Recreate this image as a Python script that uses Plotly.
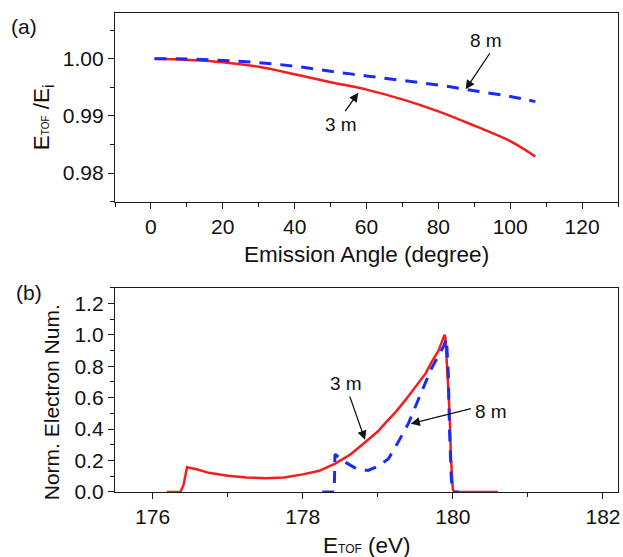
import plotly.graph_objects as go

# (a) energy ratio vs emission angle for two flight lengths
angle_3m = [1, 10, 20, 30, 40, 50, 60, 70, 80, 90, 100, 107]
ratio_3m = [1.0000, 0.9998, 0.9994, 0.9986, 0.9973, 0.9959, 0.9946, 0.9929,
            0.9908, 0.9883, 0.9856, 0.9829]
angle_8m = [1, 10, 20, 30, 40, 50, 60, 70, 80, 90, 100, 107]
ratio_8m = [1.0000, 0.99995, 0.9997, 0.9993, 0.9987, 0.9978, 0.9970, 0.9962,
            0.9954, 0.9944, 0.9934, 0.9925]

# (b) normalised electron energy distributions
e_3m = [176.19, 176.37, 176.41, 176.46, 176.60, 176.75, 177.00, 177.25, 177.50,
        177.75, 178.00, 178.22, 178.44, 178.64, 178.84, 179.00, 179.10, 179.24,
        179.37, 179.50, 179.64, 179.72, 179.81, 179.888, 179.90, 179.955,
        179.976, 180.00, 180.02, 180.60]
n_3m = [0.0, 0.0, 0.04, 0.157, 0.143, 0.122, 0.104, 0.093, 0.088,
        0.092, 0.112, 0.135, 0.182, 0.24, 0.32, 0.385, 0.438, 0.51,
        0.586, 0.67, 0.756, 0.83, 0.90, 1.0, 0.988, 0.52,
        0.205, 0.015, 0.0, 0.0]
e_8m = [178.26, 178.42, 178.43, 178.55, 178.71, 178.87, 179.00, 179.14, 179.24,
        179.32, 179.41, 179.55, 179.72, 179.88, 179.915, 179.94, 179.955,
        179.98, 180.00, 180.08]
n_8m = [0.0, 0.0, 0.24, 0.194, 0.15, 0.137, 0.163, 0.21, 0.29,
        0.364, 0.438, 0.60, 0.79, 0.93, 0.977, 0.75, 0.40,
        0.08, 0.0, 0.0]

RED = "#f51c1c"
BLUE = "#1a2cf2"
AXC = "#1a1a1a"
FONT = "Liberation Sans, Arial, sans-serif"

fig = go.Figure()
fig.add_trace(go.Scatter(x=angle_3m, y=ratio_3m, mode="lines",
                         line=dict(color=RED, width=2.5, shape="spline"),
                         xaxis="x", yaxis="y"))
fig.add_trace(go.Scatter(x=angle_8m, y=ratio_8m, mode="lines",
                         line=dict(color=BLUE, width=3, dash="12px,9px",
                                   shape="spline"),
                         xaxis="x", yaxis="y"))
fig.add_trace(go.Scatter(x=e_3m, y=n_3m, mode="lines",
                         line=dict(color=RED, width=2.5), xaxis="x2", yaxis="y2"))
fig.add_trace(go.Scatter(x=e_8m, y=n_8m, mode="lines",
                         line=dict(color=BLUE, width=3, dash="12px,9px"),
                         xaxis="x2", yaxis="y2"))

axis_common = dict(showline=True, linecolor=AXC, linewidth=1.3, mirror=True,
                   ticks="outside", ticklen=6, tickwidth=1.2, tickcolor=AXC,
                   showgrid=False, zeroline=False,
                   tickfont=dict(family=FONT, size=21, color="#111"))

fig.update_layout(
    width=623, height=557,
    margin=dict(l=115, r=3, t=13, b=65),
    paper_bgcolor="white", plot_bgcolor="white",
    showlegend=False,
    font=dict(family=FONT, color="#111"),
    xaxis=dict(range=[-10, 130], dtick=20, tick0=0, anchor="y",
               minor=dict(ticks="outside", ticklen=4, dtick=10, tickcolor=AXC),
               **axis_common),
    yaxis=dict(range=[0.975, 1.008], dtick=0.01, tick0=0.98, tickformat=".2f",
               domain=[0.6061, 1.0], anchor="x",
               minor=dict(ticks="outside", ticklen=4, dtick=0.005, tickcolor=AXC),
               **axis_common),
    xaxis2=dict(range=[175.5, 182.2], dtick=2, tick0=176, anchor="y2",
                minor=dict(ticks="outside", ticklen=4, dtick=1, tickcolor=AXC),
                **axis_common),
    yaxis2=dict(range=[0, 1.3], dtick=0.2, tick0=0, tickformat=".1f",
                domain=[0.0, 0.4265], anchor="x2",
                minor=dict(ticks="outside", ticklen=4, dtick=0.1, tickcolor=AXC),
                **axis_common),
)

def label(text, x, y, size=19, xref="x", yref="y", angle=0):
    fig.add_annotation(text=text, x=x, y=y, xref=xref, yref=yref,
                       showarrow=False, textangle=angle,
                       xanchor="center", yanchor="middle",
                       font=dict(family=FONT, size=size, color="#111"))

def arrow(x0, y0, x1, y1, xref, yref):
    fig.add_annotation(text="", x=x1, y=y1, ax=x0, ay=y0,
                       xref=xref, yref=yref, axref=xref, ayref=yref,
                       showarrow=True, arrowhead=2, arrowsize=1.4,
                       arrowwidth=1.3, arrowcolor="#111",
                       standoff=0, startstandoff=0)

# curve labels with pointers
label("8 m", 93.2, 1.00327)
arrow(94.6, 1.00122, 87.6, 0.99465, "x", "y")
label("3 m", 52.9, 0.98853)
arrow(53.8, 0.99056, 57.7, 0.99406, "x", "y")

label("3 m", 178.58, 0.692, xref="x2", yref="y2")
arrow(178.62, 0.618, 178.83, 0.332, "x2", "y2")
label("8 m", 180.51, 0.512, xref="x2", yref="y2")
arrow(180.26, 0.533, 179.44, 0.434, "x2", "y2")

# panel letters
label("(a)", -0.1802, 0.9708, size=21, xref="paper", yref="paper")
label("(b)", -0.1703, 0.4175, size=21, xref="paper", yref="paper")

# axis titles
label("Emission Angle (degree)", 0.5, 0.4948, size=22.5, xref="paper", yref="paper")
label("E<span style='font-size:10px'>TOF</span> /E<sub>i</sub>",
      (43 - 115) / 505, (492 - 117) / 479, size=22.5,
      xref="paper", yref="paper", angle=-90)
label("E<span style='font-size:12px'>TOF</span> (eV)",
      0.5, -0.112, size=22.5, xref="paper", yref="paper")
label("Norm. Electron Num.", (51 - 115) / 505, (492 - 402) / 479, size=21,
      xref="paper", yref="paper", angle=-90)

fig.write_html("out.html")
